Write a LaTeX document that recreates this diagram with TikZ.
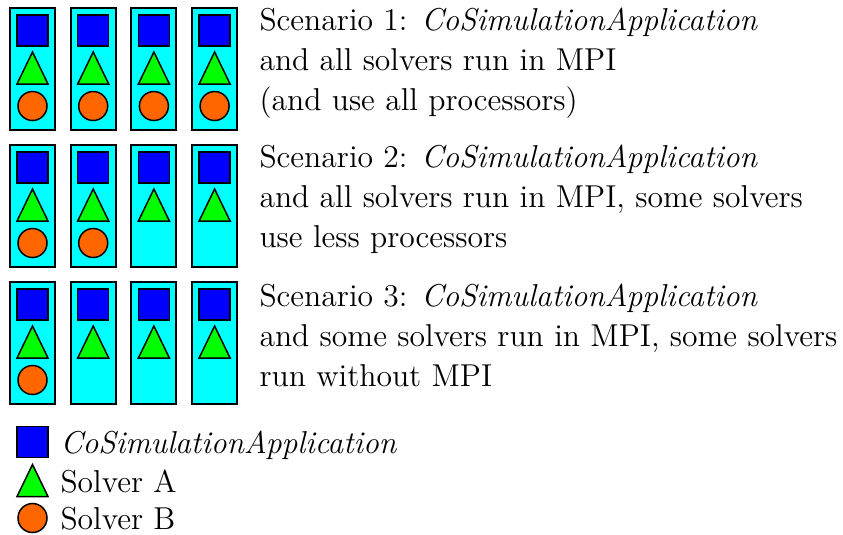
\documentclass[tikz,border=0pt]{standalone}
\usepackage{tikz}
\usetikzlibrary{calc}

\definecolor{nodecyan}{RGB}{0,255,255}
\definecolor{cosimblue}{RGB}{0,0,255}
\definecolor{solveragreen}{RGB}{0,255,0}
\definecolor{solverborange}{RGB}{255,102,0}

\newdimen\pu
\pu=0.392pt

\tikzset{
  procbox/.style={draw=black, fill=nodecyan, line width=2*\pu,
    minimum width=45*\pu, minimum height=122*\pu, inner sep=0pt},
  cosim/.style={draw=black, fill=cosimblue, line width=1.5*\pu,
    minimum size=31*\pu, inner sep=0pt},
  solverb/.style={circle, draw=black, fill=solverborange, line width=1.5*\pu,
    minimum size=29*\pu, inner sep=0pt},
  solvera/.style={draw=black, fill=solveragreen, line width=1.5*\pu, line join=miter},
  scentext/.style={anchor=base west, inner sep=0pt, align=left,
    font=\fontsize{12.4}{15.5}\selectfont},
  legtext/.style={anchor=base west, inner sep=0pt, font=\fontsize{12.4}{15}\selectfont}
}

\begin{document}
\begin{tikzpicture}[x=0.392pt,y=-0.392pt]
  \useasboundingbox (0,0) rectangle (843,534);

  %% Building the processor boxes of the three scenarios
  \foreach \r/\nb in {0/4,1/2,2/1}
  {
    \foreach \c in {0,1,2,3}
    {
      \node[procbox] (P\r\c) at ({32.5+60.7*\c},{69+137*\r}) {};
      \node[cosim] (CS\r\c) at ($(P\r\c.north)+(0,23.5)$) {};
      \coordinate (SA\r\c) at ($(P\r\c.north)+(0,61)$);
      \draw[solvera] ($(SA\r\c)+(0,-16)$) -- ++(15.5,32) -- ++(-31,0) -- cycle;
      \ifnum\c<\nb
        \node[solverb] (SB\r\c) at ($(P\r\c.north)+(0,99)$) {};
      \fi
    }
  }

  %% Scenario descriptions (anchored at the baseline of the last line)
  \node[scentext] (SC1) at (259,110) {Scenario 1: \textit{CoSimulationApplication}\\
    and all solvers run in MPI\\ (and use all processors)};
  \node[scentext] (SC2) at (259,247) {Scenario 2: \textit{CoSimulationApplication}\\
    and all solvers run in MPI, some solvers\\ use less processors};
  \node[scentext] (SC3) at (259,386) {Scenario 3: \textit{CoSimulationApplication}\\
    and some solvers run in MPI, some solvers\\ run without MPI};

  %% Legend
  \node[cosim] (LCS) at (32.5,442) {};
  \coordinate (LSA) at (32.5,480.5);
  \draw[solvera] ($(LSA)+(0,-16)$) -- ++(15.5,32) -- ++(-31,0) -- cycle;
  \node[solverb] (LSB) at (32.5,518) {};
  \node[legtext] (LCStext) at (60,453) {\textit{CoSimulationApplication}};
  \node[legtext] (LSAtext) at (60,492) {Solver A};
  \node[legtext] (LSBtext) at (60,529) {Solver B};
\end{tikzpicture}
\end{document}
